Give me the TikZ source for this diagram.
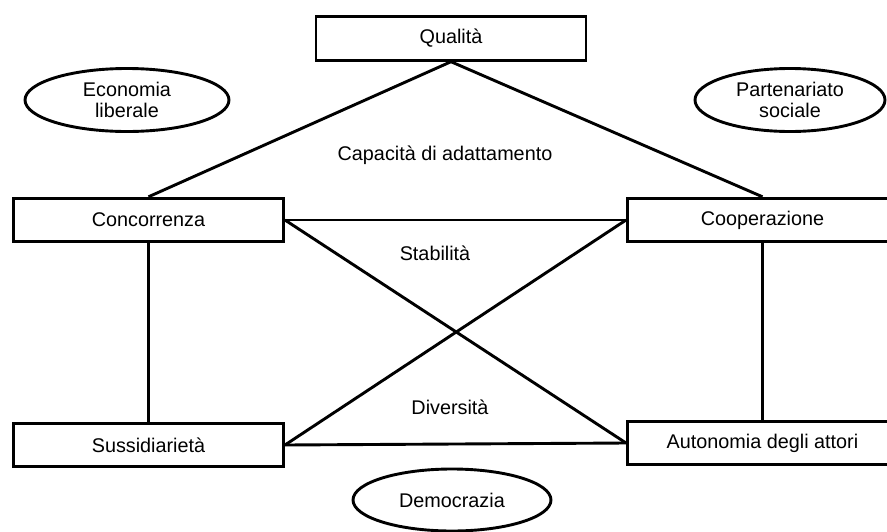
\documentclass[tikz,border=0pt]{standalone}
\usepackage{fontspec}
\setmainfont{Liberation Sans}
\usepackage{tikz}
\usetikzlibrary{shapes.geometric}
\tikzstyle{box} = [rectangle, draw, line width=2.9pt, minimum width=270pt, minimum height=43.5pt, text centered]
\tikzstyle{oval} = [ellipse, draw, line width=2.9pt, align=center, inner sep=0pt]
\tikzstyle{link} = [line width=2.9pt]
\tikzstyle{lbl} = [text centered]

\begin{document}
\begin{tikzpicture}[x=1pt, y=-1pt, node distance=225pt, font=\fontsize{19.8}{21}\selectfont]
            \useasboundingbox (0,0) rectangle (887,531);
            \clip (0,0) rectangle (887,531);
            \node (qual) [box] at (451,38.5) {Qualità};
            \node (conc) [box] at (148.5,220) {Concorrenza};
            \node (coop) [box, right of = conc, xshift = 389pt] {Cooperazione};
            \node (suss) [box, below of = conc] {Sussidiarietà};
            \node (auto) [box, below of = coop, yshift = 2pt] {Autonomia degli attori};
            
            \node (econ) [oval, minimum width=204pt, minimum height=63pt] at (127,100) {Economia\\liberale};
            \node (part) [oval, minimum width=190pt, minimum height=63pt] at (790,100) {Partenariato\\sociale};
            \node (demo) [oval, minimum width=198pt, minimum height=62pt] at (452,500) {Democrazia};
            
            \node (capa) [lbl] at (445,155) {Capacità di adattamento};
            \node (stab) [lbl] at (435,253) {Stabilità};
            \node (dive) [lbl] at (450,407) {Diversità};
            
            \draw [link] (qual.south) -- (conc.north);
            \draw [link] (qual.south) -- (coop.north);
            \draw [link] (conc.east) -- (coop.west);
            \draw [link] (conc.east) -- (auto.west);
            \draw [link] (coop.west) -- (suss.east);
            \draw [link] (suss.east) -- (auto.west);
            
            \draw [link] (conc.south) -- (suss.north);
            \draw [link] (coop.south) -- (auto.north);
        \end{tikzpicture}
\end{document}
